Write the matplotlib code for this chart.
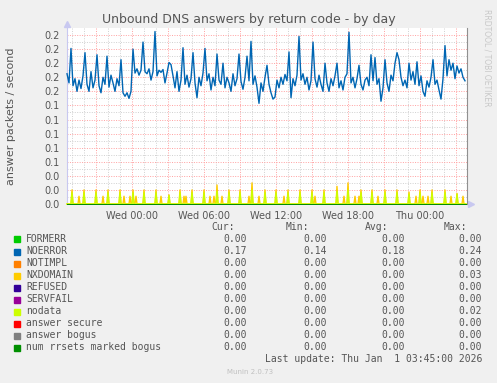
import numpy as np
import matplotlib
matplotlib.use("Agg")
import matplotlib.pyplot as plt

# NOERROR rate, one value every 10 minutes, starting Tue 18:35
noerror = [
    0.185, 0.172, 0.221, 0.168, 0.178, 0.160, 0.176, 0.164, 0.182, 0.215,
    0.170, 0.160, 0.188, 0.165, 0.176, 0.212, 0.168, 0.158, 0.180, 0.170,
    0.210, 0.166, 0.183, 0.172, 0.160, 0.178, 0.168, 0.205, 0.158, 0.153,
    0.158, 0.150, 0.160, 0.220, 0.186, 0.192, 0.183, 0.190, 0.230, 0.188,
    0.185, 0.192, 0.176, 0.188, 0.245, 0.182, 0.190, 0.187, 0.191, 0.172,
    0.186, 0.201, 0.198, 0.182, 0.165, 0.188, 0.160, 0.176, 0.222, 0.170,
    0.183, 0.166, 0.178, 0.215, 0.172, 0.151, 0.180, 0.168, 0.186, 0.221,
    0.175, 0.185, 0.162, 0.180, 0.168, 0.213, 0.176, 0.170, 0.200, 0.165,
    0.180, 0.172, 0.160, 0.185, 0.168, 0.178, 0.213, 0.174, 0.163, 0.180,
    0.210, 0.175, 0.231, 0.170, 0.182, 0.166, 0.143, 0.172, 0.160, 0.180,
    0.197, 0.170, 0.158, 0.149, 0.152, 0.176, 0.165, 0.180, 0.170, 0.184,
    0.175, 0.216, 0.151, 0.178, 0.168, 0.183, 0.238, 0.176, 0.185, 0.170,
    0.180, 0.162, 0.175, 0.230, 0.178, 0.166, 0.183, 0.170, 0.160, 0.200,
    0.172, 0.160, 0.178, 0.168, 0.182, 0.200, 0.165, 0.175, 0.162, 0.180,
    0.185, 0.244, 0.172, 0.180, 0.165, 0.178, 0.197, 0.170, 0.162, 0.176,
    0.180, 0.168, 0.212, 0.175, 0.208, 0.170, 0.178, 0.146, 0.165, 0.205,
    0.172, 0.160, 0.183, 0.175, 0.200, 0.215, 0.205, 0.180, 0.168, 0.176,
    0.165, 0.200, 0.176, 0.188, 0.170, 0.202, 0.168, 0.182, 0.160, 0.153,
    0.175, 0.166, 0.180, 0.205, 0.170, 0.176, 0.162, 0.149, 0.178, 0.225,
    0.182, 0.205, 0.190, 0.200, 0.178, 0.196, 0.186, 0.192, 0.180, 0.175,
]

# sparse series: 5-minute slot index (from Tue 18:35) and value
nx_slot = [5, 12, 17, 29, 36, 41, 53, 57, 63, 66, 69, 77, 89, 94, 102, 113, 117,
           119, 125, 137, 143, 147, 150, 155, 162, 173, 182, 185, 192, 198, 209,
           217, 221, 233, 245, 248, 257, 270, 277, 281, 288, 292, 294, 305, 311,
           318, 330, 342, 349, 353, 356, 361, 365, 378, 384, 390, 396]
nx_val = [0.020, 0.011, 0.020, 0.020, 0.011, 0.020, 0.020, 0.011, 0.011, 0.020,
          0.011, 0.020, 0.020, 0.011, 0.013, 0.020, 0.011, 0.011, 0.020, 0.020,
          0.011, 0.011, 0.027, 0.011, 0.020, 0.020, 0.011, 0.030, 0.011, 0.020,
          0.020, 0.011, 0.020, 0.020, 0.020, 0.011, 0.020, 0.025, 0.011, 0.030,
          0.011, 0.011, 0.020, 0.020, 0.011, 0.020, 0.020, 0.017, 0.011, 0.020,
          0.011, 0.011, 0.020, 0.020, 0.011, 0.015, 0.011]
nodata_slot = [5, 17, 29, 41, 53, 66, 77, 89, 102, 113, 125, 137, 150, 162, 173,
               185, 198, 209, 221, 233, 245, 257, 270, 281, 294, 305, 318, 330,
               342, 353, 365, 378, 390]
nodata_val = [0.016, 0.016, 0.016, 0.016, 0.016, 0.016, 0.016, 0.016, 0.012,
              0.016, 0.016, 0.016, 0.018, 0.016, 0.016, 0.020, 0.016, 0.016,
              0.016, 0.016, 0.016, 0.016, 0.018, 0.020, 0.016, 0.016, 0.016,
              0.016, 0.014, 0.016, 0.016, 0.016, 0.014]

names = ["FORMERR", "NOERROR", "NOTIMPL", "NXDOMAIN", "REFUSED", "SERVFAIL",
         "nodata", "answer secure", "answer bogus", "num rrsets marked bogus"]
colors = ["#00CC00", "#0066B3", "#FF8000", "#FFCC00", "#330099", "#990099",
          "#CCFF00", "#FF0000", "#808080", "#008F00"]
cur = ["0.00", "0.17", "0.00", "0.00", "0.00", "0.00", "0.00", "0.00", "0.00", "0.00"]
mins = ["0.00", "0.14", "0.00", "0.00", "0.00", "0.00", "0.00", "0.00", "0.00", "0.00"]
avgs = ["0.00", "0.18", "0.00", "0.00", "0.00", "0.00", "0.00", "0.00", "0.00", "0.00"]
maxs = ["0.00", "0.24", "0.00", "0.03", "0.00", "0.00", "0.02", "0.00", "0.00", "0.00"]

xlabels = ["Wed 00:00", "Wed 06:00", "Wed 12:00", "Wed 18:00", "Thu 00:00"]

# time axis in hours relative to Wed 00:00
t0 = -65 / 12.0
t_ne = t0 + np.arange(len(noerror)) / 6.0
t5 = t0 + np.arange(400) / 12.0
nxdomain = np.zeros(400)
nxdomain[nx_slot] = nx_val
nodata = np.zeros(400)
nodata[nodata_slot] = nodata_val
zero = np.zeros(400)

txt = "#555555"
fig = plt.figure(figsize=(4.97, 3.83), dpi=100, facecolor="#F0F0F0")
ax = fig.add_axes([67 / 497, 1 - 204 / 383, 400 / 497, 176 / 383])
ax.set_facecolor("white")
ax.set_xlim(t0, t0 + 400 / 12.0)
ax.set_ylim(0, 0.25)

# grid
for h in range(-5, 28):
    ax.axvline(h, color="#FFA0A0" if h % 3 == 0 else "#D0D0D0", lw=0.7,
               ls=(0, (1, 1.5)), zorder=0)
for k in range(25):
    ax.axhline(k * 0.01, color="#FFA0A0" if k % 2 == 0 else "#D0D0D0", lw=0.7,
               ls=(0, (1, 1.5)), zorder=0)

series = {"NOERROR": (t_ne, noerror), "NXDOMAIN": (t5, nxdomain), "nodata": (t5, nodata)}
for i, n in enumerate(names):
    x, y = series.get(n, (t5, zero))
    lw = 1.0 if n in series else 0.7
    ax.plot(x, y, color=colors[i], lw=lw, clip_on=False, zorder=2 + i)

ax.set_yticks(np.arange(0, 0.25, 0.02))
ax.set_yticklabels(["%.1f" % v for v in np.arange(0, 0.25, 0.02)])
ax.set_xticks([0, 6, 12, 18, 24])
ax.set_xticklabels(xlabels)
ax.tick_params(length=0, labelsize=7, colors=txt, pad=5)

for s in ["top", "bottom"]:
    ax.spines[s].set_visible(False)
ax.spines["left"].set_color("#C8C8F0")
ax.spines["right"].set_color("#909090")
ax.plot([0], [1.025], marker="^", color="#C8C8F0", ms=4, transform=ax.transAxes, clip_on=False)
ax.plot([1.01], [0], marker=">", color="#C8C8F0", ms=4, transform=ax.transAxes, clip_on=False)

ax.set_ylabel("answer packets / second", fontsize=8, color=txt)
ax.yaxis.set_label_coords(-51 / 400, 0.5)
fig.text(0.5, 1 - 19 / 383, "Unbound DNS answers by return code - by day",
         ha="center", va="center", fontsize=9, color=txt)
fig.text(487 / 497, 1 - 58 / 383, "RRDTOOL / TOBI OETIKER", rotation=270,
         ha="center", va="center", fontsize=5.5, color="#C8C8C8")

# legend table
mono = "DejaVu Sans Mono"
fs = 7
H = 383.0
fig.text(235 / 497, 1 - 227 / H, "Cur:", ha="right", va="center", family=mono, fontsize=fs, color=txt)
fig.text(309 / 497, 1 - 227 / H, "Min:", ha="right", va="center", family=mono, fontsize=fs, color=txt)
fig.text(388 / 497, 1 - 227 / H, "Avg:", ha="right", va="center", family=mono, fontsize=fs, color=txt)
fig.text(467 / 497, 1 - 227 / H, "Max:", ha="right", va="center", family=mono, fontsize=fs, color=txt)
for i, n in enumerate(names):
    yy = 1 - (239.5 + i * 12) / H
    fig.patches.append(plt.Rectangle((14 / 497, yy - 3 / H), 6 / 497, 6 / H,
                                     transform=fig.transFigure, color=colors[i]))
    fig.text(26 / 497, yy, n, ha="left", va="center", family=mono, fontsize=fs, color=txt)
    for xr, vals in zip([247, 327, 405, 482], [cur, mins, avgs, maxs]):
        fig.text(xr / 497, yy, vals[i], ha="right", va="center", family=mono, fontsize=fs, color=txt)
fig.text(482 / 497, 1 - 359 / H, "Last update: Thu Jan  1 03:45:00 2026", ha="right",
         va="center", family=mono, fontsize=fs, color=txt)
fig.text(250 / 497, 1 - 372 / H, "Munin 2.0.73", ha="center", va="center",
         fontsize=5, color="#C0C0C0")

fig.savefig("out.png", dpi=100, facecolor=fig.get_facecolor())
